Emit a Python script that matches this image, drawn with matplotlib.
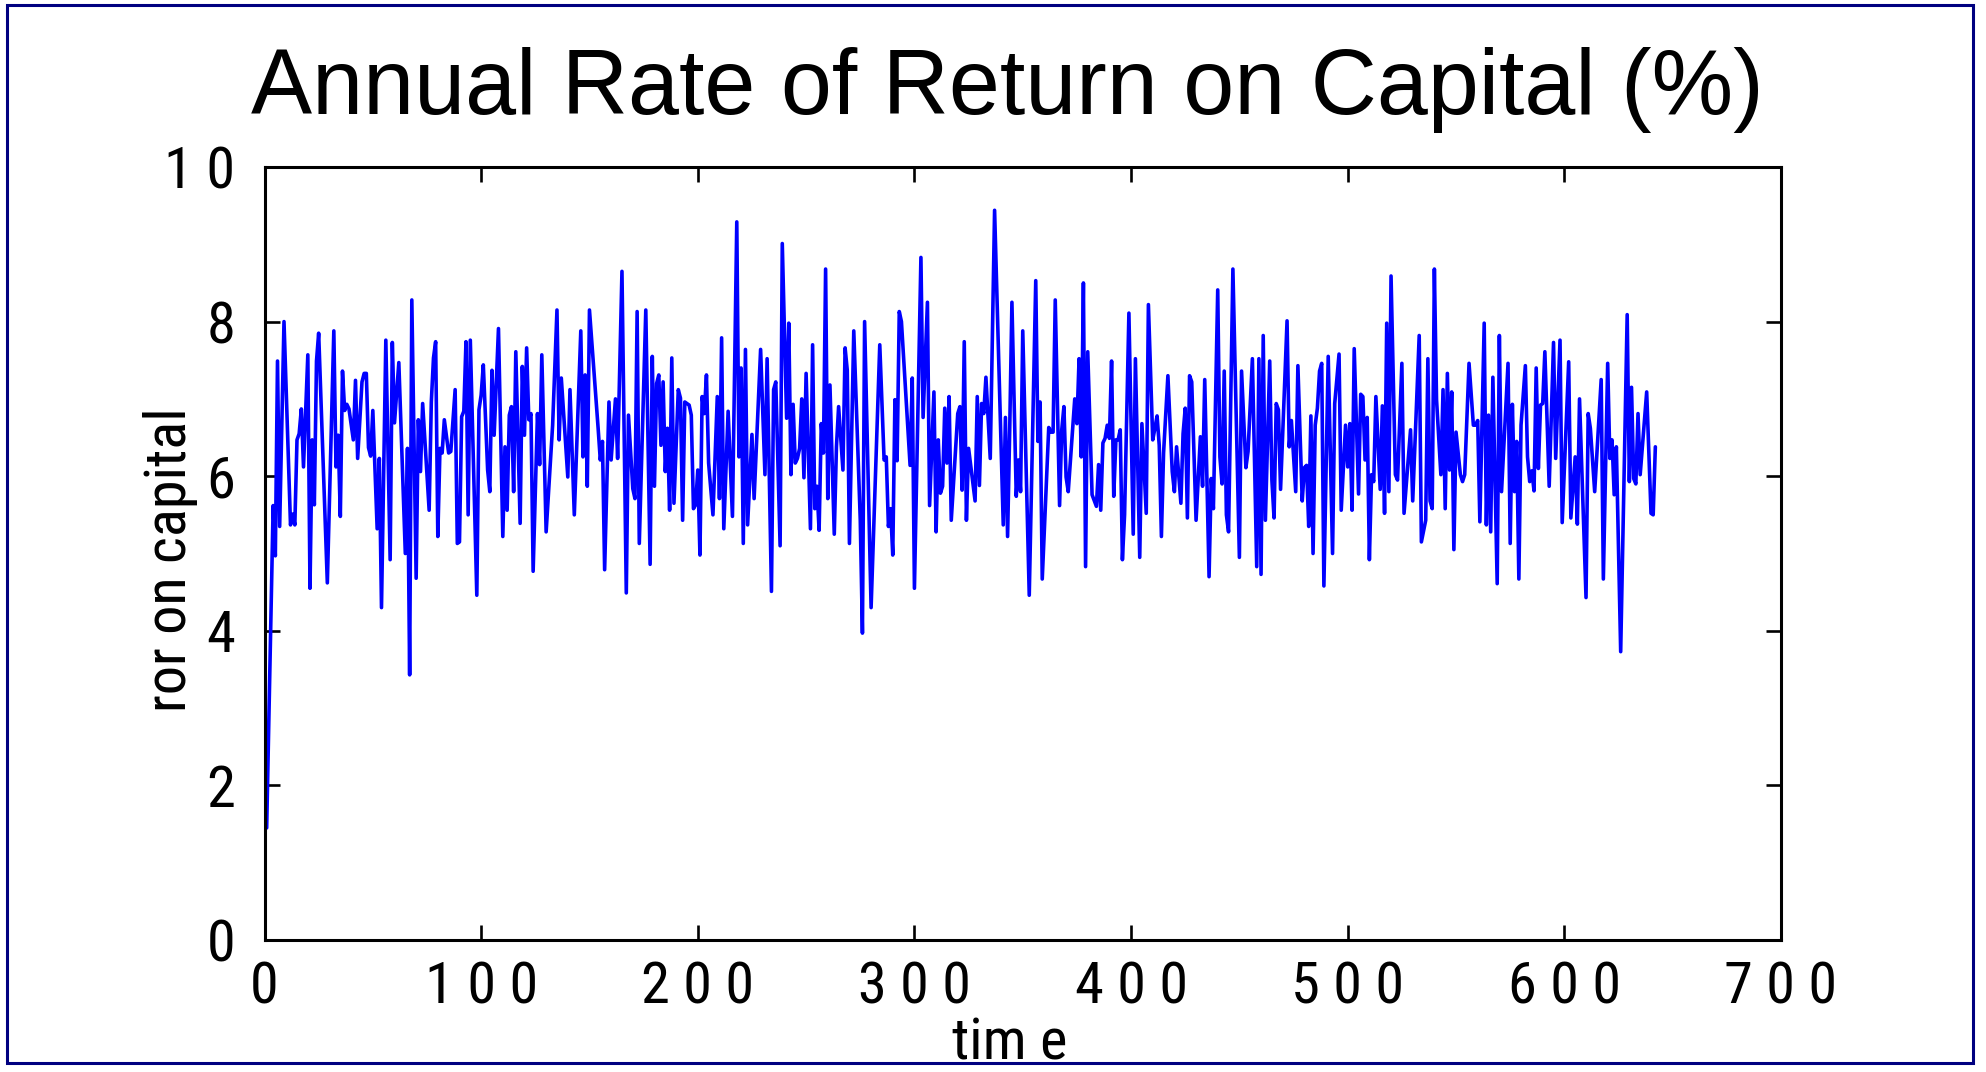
import os
import re
import matplotlib
matplotlib.use("Agg")
import matplotlib.pyplot as plt
from matplotlib.patches import Rectangle
from matplotlib import font_manager as fm
from matplotlib.font_manager import FontProperties

# Rate of return on capital per period (turning points of the series)
time = [0, 1, 4, 5, 6, 7, 9, 12, 13, 14, 15, 16, 17, 18, 20, 21, 22, 23, 24, 25,
        29, 32, 33, 34, 35, 36, 37, 38, 39, 41, 42, 43, 45, 46, 47, 48, 49, 50, 52, 53,
        54, 56, 58, 59, 60, 62, 65, 66, 67, 68, 70, 71, 72, 73, 76, 77, 78, 79, 80, 81,
        82, 83, 85, 86, 88, 89, 90, 91, 92, 93, 94, 95, 98, 99, 100, 101, 103, 104, 105, 106,
        108, 110, 111, 112, 113, 114, 115, 116, 118, 119, 120, 121, 122, 123, 124, 126, 127, 128, 130, 133,
        135, 136, 137, 140, 141, 143, 146, 147, 148, 149, 150, 154, 155, 156, 157, 159, 160, 162, 163, 165,
        167, 168, 170, 171, 172, 173, 176, 178, 179, 180, 181, 182, 183, 184, 185, 186, 187, 188, 189, 191,
        192, 193, 194, 196, 197, 198, 199, 200, 201, 202, 203, 204, 205, 207, 209, 210, 211, 212, 214, 216,
        218, 219, 220, 221, 222, 223, 225, 226, 229, 231, 232, 234, 235, 236, 238, 239, 241, 242, 243, 244,
        245, 246, 247, 248, 249, 250, 252, 253, 254, 255, 256, 257, 258, 259, 260, 261, 263, 264, 265, 267,
        268, 269, 270, 272, 275, 276, 277, 280, 284, 286, 287, 288, 289, 290, 291, 292, 293, 294, 298, 299,
        300, 303, 304, 306, 307, 309, 310, 311, 312, 313, 314, 315, 316, 317, 320, 321, 322, 323, 324, 325,
        328, 329, 330, 331, 332, 333, 335, 337, 341, 342, 343, 344, 345, 347, 348, 349, 350, 353, 356, 357,
        358, 359, 362, 363, 364, 365, 367, 368, 369, 370, 371, 374, 375, 376, 377, 378, 379, 380, 382, 384,
        385, 386, 387, 388, 389, 390, 391, 392, 393, 394, 395, 396, 397, 399, 401, 402, 404, 405, 407, 408,
        410, 411, 412, 413, 414, 415, 417, 419, 420, 421, 423, 424, 425, 426, 427, 428, 430, 432, 433, 434,
        436, 437, 438, 440, 441, 442, 443, 444, 445, 447, 450, 451, 453, 454, 456, 458, 459, 460, 461, 462,
        464, 465, 466, 467, 468, 469, 472, 473, 474, 476, 477, 479, 480, 481, 482, 483, 484, 485, 486, 487,
        488, 489, 491, 493, 494, 496, 497, 499, 500, 501, 502, 503, 505, 506, 507, 508, 509, 510, 511, 512,
        513, 515, 516, 517, 518, 519, 520, 522, 523, 525, 526, 529, 530, 533, 534, 536, 537, 538, 539, 540,
        541, 543, 544, 545, 546, 547, 548, 549, 550, 552, 553, 554, 556, 558, 559, 560, 561, 563, 564, 565,
        566, 567, 569, 570, 571, 574, 575, 576, 577, 578, 579, 580, 582, 583, 584, 585, 586, 587, 588, 589,
        590, 591, 593, 595, 596, 598, 599, 602, 603, 605, 606, 607, 610, 611, 612, 614, 617, 618, 620, 621,
        622, 623, 624, 626, 629, 630, 631, 632, 633, 634, 635, 638, 640, 641, 642]

ror = [3.09, 1.45, 5.62, 4.97, 7.49, 5.35, 8.00, 5.37, 5.51, 5.37, 6.47, 6.55, 6.87, 6.12, 7.57, 4.55, 6.47, 5.63, 7.49, 7.85,
       4.62, 7.88, 6.12, 6.53, 5.48, 7.36, 6.85, 6.93, 6.87, 6.47, 7.24, 6.23, 7.22, 7.33, 7.33, 6.37, 6.26, 6.85, 5.32, 6.23,
       4.30, 7.76, 4.92, 7.73, 6.69, 7.47, 5.00, 6.36, 3.43, 8.28, 4.68, 6.73, 6.06, 6.94, 5.56, 6.96, 7.53, 7.74, 5.22, 6.36,
       6.30, 6.73, 6.30, 6.32, 7.12, 5.13, 5.15, 6.77, 6.84, 7.74, 5.50, 7.76, 4.46, 6.86, 7.05, 7.44, 6.08, 5.80, 7.37, 6.53,
       7.91, 5.22, 6.38, 5.56, 6.79, 6.90, 5.80, 7.61, 5.39, 7.42, 6.53, 7.66, 6.73, 6.81, 4.77, 6.81, 6.15, 7.57, 5.28, 6.66,
       8.15, 6.47, 7.27, 5.99, 7.12, 5.50, 7.88, 6.25, 7.31, 5.87, 8.15, 6.62, 6.21, 6.45, 4.79, 6.96, 6.21, 7.00, 6.23, 8.65,
       4.49, 6.79, 5.84, 5.71, 8.13, 5.13, 8.15, 4.86, 7.55, 5.87, 7.20, 7.31, 6.40, 7.22, 6.06, 6.62, 5.56, 7.53, 5.65, 7.12,
       7.01, 5.43, 6.96, 6.92, 6.79, 5.58, 5.63, 6.08, 4.98, 7.03, 6.81, 7.31, 6.17, 5.50, 7.03, 5.71, 7.79, 5.32, 6.84, 5.48,
       9.29, 6.25, 7.40, 5.13, 7.64, 5.37, 6.54, 5.71, 7.64, 6.02, 7.52, 4.51, 7.12, 7.22, 5.10, 9.01, 6.75, 7.98, 6.02, 6.93,
       6.17, 6.23, 6.36, 7.00, 5.98, 7.33, 5.32, 7.70, 5.58, 5.87, 5.30, 6.68, 6.30, 8.68, 5.71, 7.18, 5.25, 6.38, 6.90, 6.08,
       7.66, 7.37, 5.13, 7.88, 5.43, 3.97, 8.00, 4.30, 7.70, 6.21, 6.25, 5.35, 5.58, 4.98, 6.99, 6.20, 8.13, 8.00, 6.14, 7.27,
       4.55, 8.83, 6.76, 8.25, 5.62, 7.09, 5.28, 6.47, 5.78, 5.87, 6.88, 6.17, 7.03, 5.43, 6.81, 6.90, 5.82, 7.74, 5.43, 6.36,
       5.68, 7.03, 5.88, 6.94, 6.81, 7.28, 6.23, 9.44, 5.37, 6.76, 5.22, 6.63, 8.25, 5.74, 6.21, 5.80, 7.88, 4.46, 8.53, 6.45,
       6.96, 4.67, 6.63, 6.57, 6.57, 8.28, 5.62, 6.60, 6.90, 5.99, 5.80, 7.00, 6.68, 7.52, 6.25, 8.50, 4.83, 7.61, 5.76, 5.61,
       6.15, 5.56, 6.43, 6.49, 6.66, 6.49, 7.49, 5.74, 6.47, 6.47, 6.60, 4.92, 5.50, 8.11, 5.25, 7.52, 4.95, 6.68, 5.52, 8.22,
       6.47, 6.62, 6.78, 6.40, 5.22, 6.30, 7.30, 6.06, 5.80, 6.38, 5.65, 6.55, 6.88, 5.46, 7.30, 7.22, 5.43, 6.51, 5.87, 7.25,
       4.70, 5.97, 5.58, 8.41, 6.25, 5.90, 7.36, 5.50, 5.28, 8.68, 4.95, 7.36, 6.11, 6.32, 7.52, 4.83, 7.52, 4.73, 7.82, 5.43,
       7.49, 5.95, 5.46, 6.94, 6.86, 5.83, 8.01, 6.38, 6.72, 5.80, 7.43, 5.68, 6.11, 6.14, 5.35, 6.78, 5.00, 6.66, 6.88, 7.36,
       7.46, 4.58, 7.55, 5.00, 6.94, 7.58, 5.56, 6.66, 6.12, 6.68, 5.56, 7.65, 5.77, 7.06, 7.03, 6.21, 6.76, 4.92, 6.02, 5.93,
       7.03, 5.83, 6.91, 5.52, 7.98, 5.80, 8.59, 6.02, 5.95, 7.46, 5.52, 6.60, 5.68, 7.82, 5.15, 5.43, 7.52, 5.68, 5.58, 8.68,
       6.99, 6.02, 7.12, 5.58, 7.33, 6.08, 7.09, 5.05, 6.57, 6.02, 5.93, 6.02, 7.46, 6.66, 6.66, 6.72, 5.41, 7.98, 5.37, 6.79,
       5.28, 7.28, 4.61, 7.82, 5.80, 7.46, 5.13, 6.93, 5.80, 6.45, 4.67, 6.66, 7.43, 6.25, 5.93, 6.07, 5.81, 7.40, 6.10, 6.92,
       6.94, 7.61, 5.87, 7.73, 6.23, 7.76, 5.40, 7.48, 5.46, 6.25, 5.38, 7.00, 4.43, 6.81, 6.62, 5.80, 7.25, 4.67, 7.46, 6.23,
       6.47, 5.76, 6.38, 3.73, 8.09, 5.93, 7.15, 5.97, 5.90, 6.81, 6.02, 7.09, 5.52, 5.50, 6.38]

x_ticks = [0, 100, 200, 300, 400, 500, 600, 700]
x_tick_labels = ["0", "1 0 0", "2 0 0", "3 0 0", "4 0 0", "5 0 0", "6 0 0", "7 0 0"]
y_ticks = [0, 2, 4, 6, 8, 10]
y_tick_labels = ["0", "2", "4", "6", "8", "1 0"]


def narrow_font(size):
    """Return the narrowest regular sans face available, at the given size."""
    patterns = [r"^NotoSans-ExtraCondensed\.", r"^LiberationSansNarrow-Regular\.",
                r"^RobotoCondensed-Regular\.", r"^NotoSans-Condensed\.",
                r"^OpenSans.?Condensed-Regular\.", r"^DejaVuSansCondensed\."]
    files = [f.fname for f in fm.fontManager.ttflist]
    for pat in patterns:
        rx = re.compile(pat, re.I)
        for fn in files:
            if rx.search(os.path.basename(fn)):
                return FontProperties(fname=fn, size=size)
    return FontProperties(family="DejaVu Sans", stretch="condensed", size=size)


W, H = 1986, 1072
tick_fp = narrow_font(42)
label_fp = narrow_font(42)

fig = plt.figure(figsize=(W / 100, H / 100), dpi=100)
fig.patch.set_facecolor("white")

ax = fig.add_axes([264.5 / W, 1 - 940 / H, (1781 - 264.5) / W, (940 - 167) / H])
ax.plot(time, ror, color="#0000FF", lw=2.6, solid_joinstyle="round", solid_capstyle="round")

ax.set_xlim(0, 700)
ax.set_ylim(0, 10)
ax.set_xticks(x_ticks)
ax.set_xticklabels(x_tick_labels, fontproperties=tick_fp)
ax.set_yticks(y_ticks)
ax.set_yticklabels(y_tick_labels, fontproperties=tick_fp)
ax.tick_params(direction="in", length=11, width=1.9, top=True, right=True,
               labeltop=False, labelright=False, colors="black")
ax.tick_params(axis="x", pad=15)
ax.tick_params(axis="y", pad=21)
for sp in ax.spines.values():
    sp.set_linewidth(2.2)
    sp.set_color("black")

fig.text(1007 / W, 1 - 114 / H, "Annual Rate of Return on Capital (%)",
         ha="center", va="baseline", fontsize=66, family=["Liberation Sans", "DejaVu Sans"])
fig.text(171 / W, 1 - 560 / H, "ror on capital", rotation=90,
         ha="center", va="center", fontproperties=label_fp)
fig.text(1010 / W, 1 - 1071 / H, "tim e", ha="center", va="bottom",
         fontproperties=label_fp, zorder=5)

frame = Rectangle((7 / W, 1 - 1063 / H), (1973 - 7) / W, (1063 - 5) / H,
                  transform=fig.transFigure, fill=False, ec="#000080", lw=2.2, zorder=1)
fig.add_artist(frame)

fig.savefig("out.png", dpi=100)
